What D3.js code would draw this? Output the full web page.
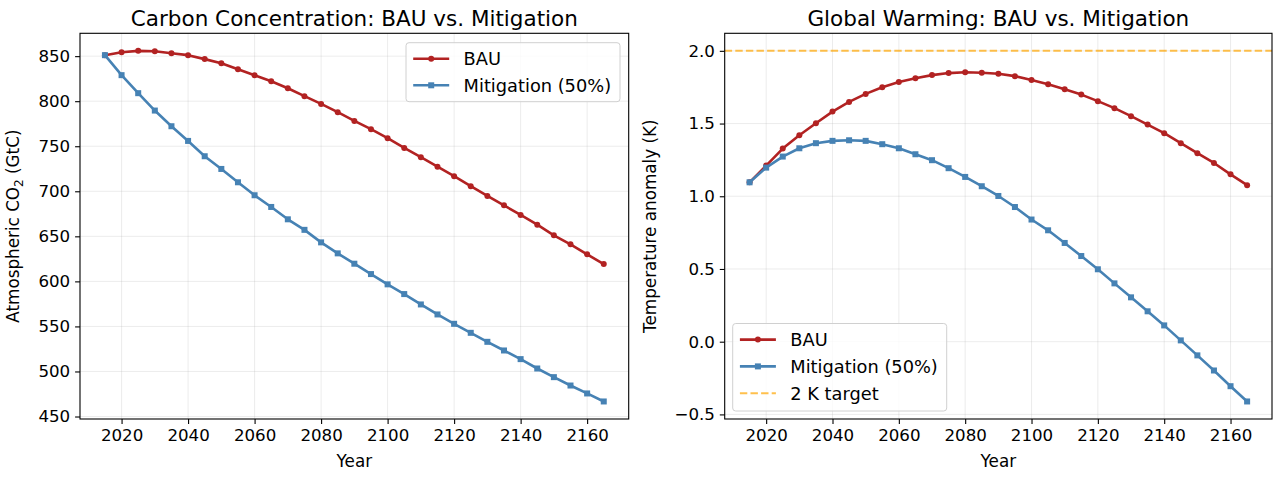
<!DOCTYPE html>
<html><head><meta charset="utf-8">
<script src="https://cdn.jsdelivr.net/npm/d3@7"></script>
<style>
body{margin:0;background:#fff;}
svg{display:block;font-family:"DejaVu Sans",sans-serif;}
</style></head>
<body>
<svg id="c" width="1280" height="480"></svg>
<script>
const years = [2015,2020,2025,2030,2035,2040,2045,2050,2055,2060,2065,2070,2075,2080,2085,2090,2095,2100,2105,2110,2115,2120,2125,2130,2135,2140,2145,2150,2155,2160,2165];
const carbonBAU = [851.1,854.4,855.9,855.5,853.3,851.1,846.7,842.2,835.5,828.9,822.2,814.4,805.6,797.0,787.8,778.1,768.9,758.9,748.1,737.8,727.3,716.7,705.6,694.8,684.4,673.7,662.9,651.1,641.1,630.0,619.2];
const carbonMit = [851.1,828.9,808.9,789.6,772.2,755.9,738.9,724.8,710.0,695.6,682.6,668.9,657.2,643.3,631.1,619.6,608.1,596.7,585.9,574.4,563.3,552.9,542.9,532.9,523.3,513.7,503.3,493.7,484.4,475.6,466.7];
const tempBAU = [1.096,1.211,1.328,1.420,1.502,1.582,1.649,1.704,1.750,1.785,1.812,1.833,1.847,1.853,1.849,1.842,1.826,1.800,1.771,1.736,1.699,1.654,1.606,1.551,1.493,1.434,1.365,1.296,1.229,1.151,1.076];
const tempMit = [1.096,1.197,1.273,1.330,1.365,1.381,1.385,1.381,1.358,1.330,1.289,1.248,1.193,1.133,1.069,1.002,0.926,0.840,0.766,0.679,0.589,0.498,0.401,0.305,0.209,0.112,0.009,-0.094,-0.198,-0.306,-0.411];
const targetK = 2.0;
const xTicks = [2020,2040,2060,2080,2100,2120,2140,2160];
const carbonTicks = [450,500,550,600,650,700,750,800,850];
const tempTicks = [-0.5,0.0,0.5,1.0,1.5,2.0];
const seriesNames = ["BAU","Mitigation (50%)","2 K target"];
const titles = ["Carbon Concentration: BAU vs. Mitigation","Global Warming: BAU vs. Mitigation"];

const RED = "#b22222", BLUE = "#4682b4", ORANGE = "rgba(255,165,0,0.7)";
const svg = d3.select("#c");
const fmtMinus = s => s.replace("-", "\u2212");

function pad(lo, hi){ const r = hi - lo; return [lo - 0.05*r, hi + 0.05*r]; }

function panel(opts){
  const {left, right, top, bottom, bau, mit, yTicks, yFmt, ylabel, ylabelX, title, hline, legend} = opts;
  const g = svg.append("g");
  const x = d3.scaleLinear().domain(pad(d3.min(years), d3.max(years))).range([left, right]);
  let lo = d3.min([...bau, ...mit]), hi = d3.max([...bau, ...mit]);
  if (hline !== undefined){ lo = Math.min(lo, hline); hi = Math.max(hi, hline); }
  const y = d3.scaleLinear().domain(pad(lo, hi)).range([bottom, top]);

  // grid
  const grid = g.append("g").attr("stroke", "#b0b0b0").attr("stroke-opacity", 0.3).attr("stroke-width", 0.8);
  xTicks.forEach(t => grid.append("line").attr("x1", x(t)).attr("x2", x(t)).attr("y1", top).attr("y2", bottom));
  yTicks.forEach(t => grid.append("line").attr("x1", left).attr("x2", right).attr("y1", y(t)).attr("y2", y(t)));

  // axes
  const xa = g.append("g").attr("transform", `translate(0,${bottom})`)
    .call(d3.axisBottom(x).tickValues(xTicks).tickFormat(d3.format("d")).tickSize(4.9).tickPadding(5.5));
  const ya = g.append("g").attr("transform", `translate(${left},0)`)
    .call(d3.axisLeft(y).tickValues(yTicks).tickFormat(d => fmtMinus(yFmt(d))).tickSize(4.9).tickPadding(4.9));
  [xa, ya].forEach(a => {
    a.select(".domain").remove();
    a.selectAll("text").attr("font-size", 16.67).attr("fill", "#000").attr("font-family", "DejaVu Sans");
    a.selectAll("line").attr("stroke", "#000").attr("stroke-width", 1.1);
  });
  xa.selectAll("text").attr("dy", "0.71em");

  // target line
  if (hline !== undefined){
    g.append("line").attr("x1", left).attr("x2", right).attr("y1", y(hline)).attr("y2", y(hline))
      .attr("stroke", ORANGE).attr("stroke-width", 2).attr("stroke-dasharray", "7.4,3.2");
  }

  const line = d3.line().x((d,i) => x(years[i])).y(d => y(d));
  function drawSeries(vals, color, shape){
    g.append("path").datum(vals).attr("d", line).attr("fill", "none").attr("stroke", color)
      .attr("stroke-width", 2.6).attr("stroke-linejoin", "round");
    const m = g.append("g").attr("fill", color);
    vals.forEach((v,i) => {
      if (shape === "circle") m.append("circle").attr("cx", x(years[i])).attr("cy", y(v)).attr("r", 3);
      else m.append("rect").attr("x", x(years[i]) - 3).attr("y", y(v) - 3).attr("width", 6).attr("height", 6);
    });
  }
  drawSeries(bau, RED, "circle");
  drawSeries(mit, BLUE, "square");

  // frame
  g.append("rect").attr("x", left).attr("y", top).attr("width", right-left).attr("height", bottom-top)
    .attr("fill", "none").attr("stroke", "#000").attr("stroke-width", 1.1);

  // title & labels
  g.append("text").attr("x", (left+right)/2).attr("y", 26).attr("text-anchor", "middle")
    .attr("font-size", 21.5).attr("fill", "#000").text(title);
  g.append("text").attr("x", (left+right)/2).attr("y", 467).attr("text-anchor", "middle")
    .attr("font-size", 16.8).attr("fill", "#000").text("Year");
  const yl = g.append("text").attr("transform", `translate(${ylabelX},${(top+bottom)/2}) rotate(-90)`)
    .attr("text-anchor", "middle").attr("font-size", 16.8).attr("fill", "#000");
  ylabel(yl);

  // legend
  const L = legend;
  const lg = g.append("g");
  lg.append("rect").attr("x", L.x).attr("y", L.y).attr("width", L.w).attr("height", L.h).attr("rx", 3)
    .attr("fill", "rgba(255,255,255,0.8)").attr("stroke", "#d0d0d0").attr("stroke-width", 1);
  L.items.forEach((it, k) => {
    const cy = L.y + L.first + k*L.step;
    const x1 = L.x + 7.2, x2 = L.x + 43.2;
    const ln = lg.append("line").attr("x1", x1).attr("x2", x2).attr("y1", cy).attr("y2", cy)
      .attr("stroke", it.color).attr("stroke-width", it.shape === "dash" ? 2 : 2.6);
    if (it.shape === "dash") ln.attr("stroke-dasharray", "7.4,3.2");
    if (it.shape === "circle") lg.append("circle").attr("cx", (x1+x2)/2).attr("cy", cy).attr("r", 3).attr("fill", it.color);
    if (it.shape === "square") lg.append("rect").attr("x", (x1+x2)/2-3).attr("y", cy-3).attr("width", 6).attr("height", 6).attr("fill", it.color);
    lg.append("text").attr("x", L.x + 57.6).attr("y", cy).attr("dy", "0.36em").attr("font-size", 17.8).attr("fill", "#000").text(it.name);
  });
}

panel({
  left: 80, right: 628.7, top: 33.3, bottom: 419,
  bau: carbonBAU, mit: carbonMit, yTicks: carbonTicks, yFmt: d3.format("d"),
  ylabelX: 19, title: titles[0],
  ylabel: t => { t.append("tspan").text("Atmospheric CO"); t.append("tspan").attr("font-size", 12).attr("dy", "0.3em").text("2"); t.append("tspan").attr("dy", "-0.22em").text(" (GtC)"); },
  legend: {x: 406, y: 42.7, w: 214, h: 59, first: 16.1, step: 26.5,
    items: [{name: seriesNames[0], color: RED, shape: "circle"}, {name: seriesNames[1], color: BLUE, shape: "square"}]}
});

panel({
  left: 724.7, right: 1272, top: 33.3, bottom: 419,
  bau: tempBAU, mit: tempMit, yTicks: tempTicks, yFmt: d3.format(".1f"),
  ylabelX: 656, title: titles[1], hline: targetK,
  ylabel: t => t.text("Temperature anomaly (K)"),
  legend: {x: 732.7, y: 323.5, w: 214, h: 87.5, first: 16.1, step: 26.8,
    items: [{name: seriesNames[0], color: RED, shape: "circle"}, {name: seriesNames[1], color: BLUE, shape: "square"}, {name: seriesNames[2], color: ORANGE, shape: "dash"}]}
});
</script>
</body></html>
